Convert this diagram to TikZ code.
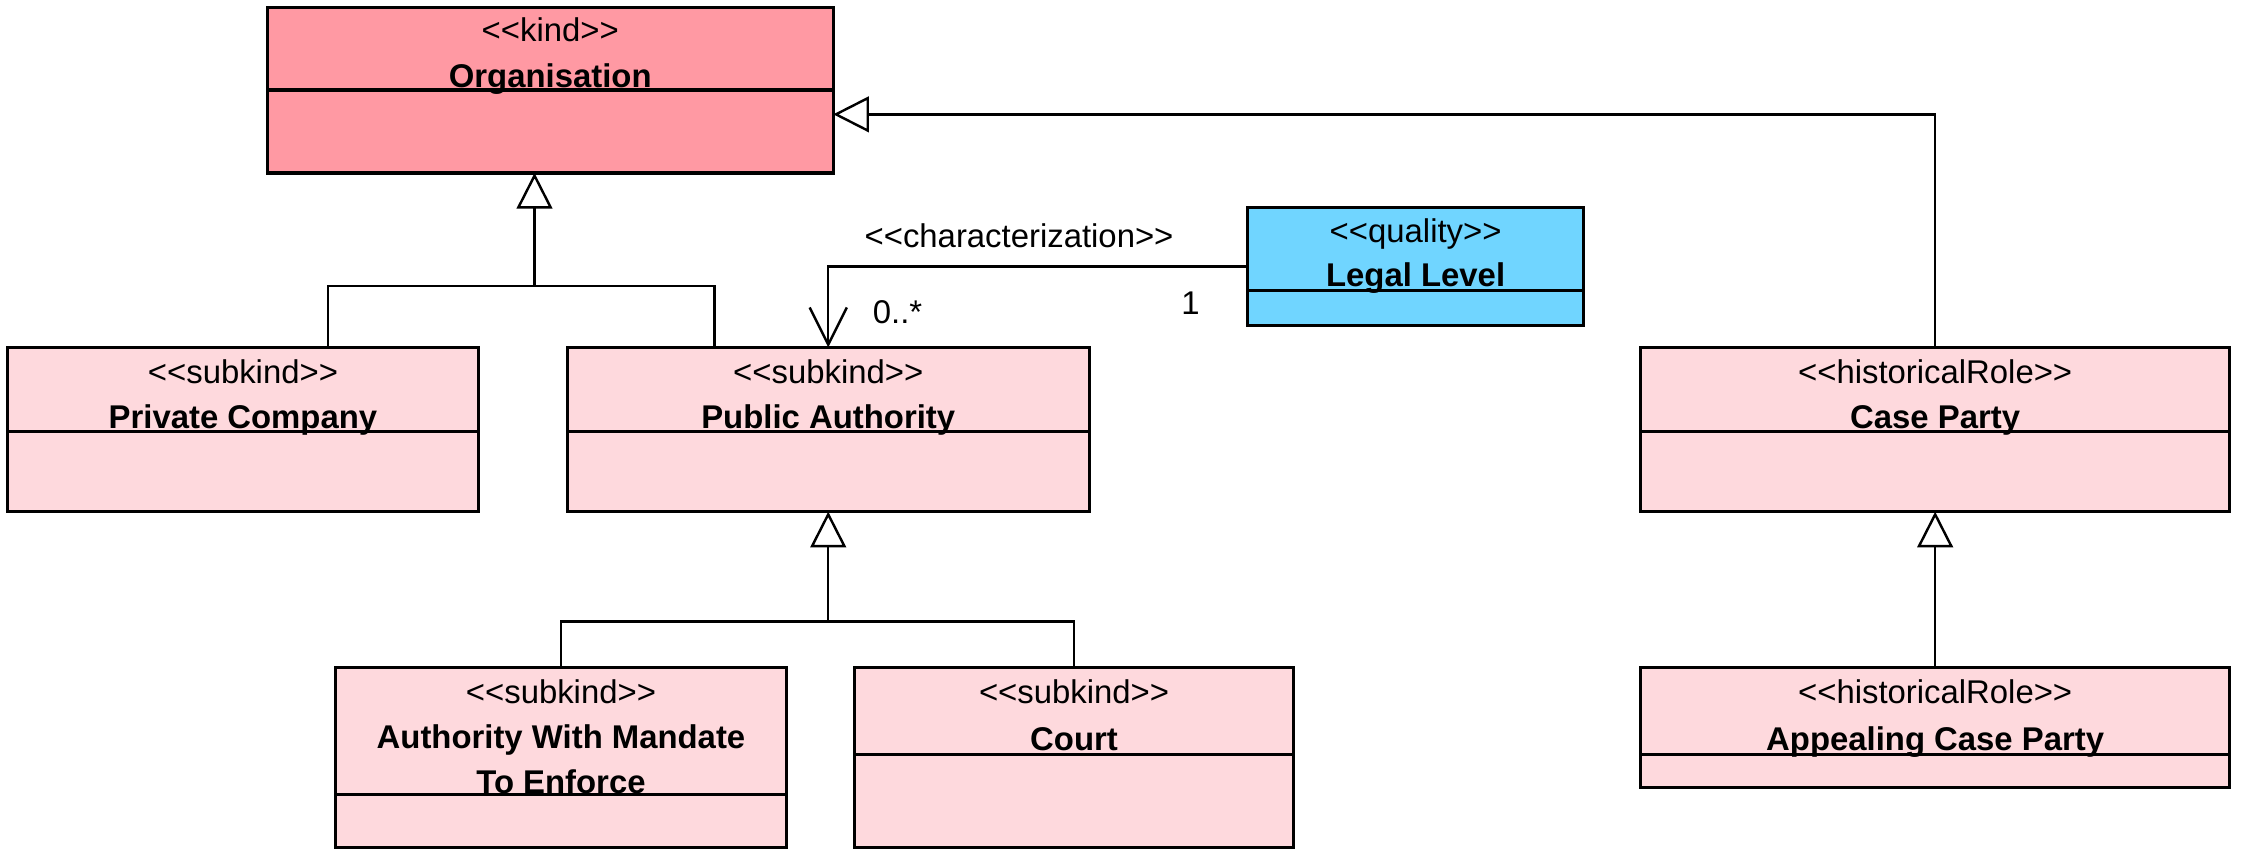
\documentclass[tikz,border=0pt]{standalone}
\usepackage{fontspec}
\setmainfont{Liberation Sans}
\usetikzlibrary{arrows.meta}
\definecolor{kindpink}{RGB}{255,153,163}
\definecolor{subpink}{RGB}{254,217,221}
\definecolor{qualblue}{RGB}{112,213,255}
\newcommand\umlst[1]{<{}<#1>{}>}
\begin{document}
\begin{tikzpicture}[x=1pt,y=-1pt,
  cls/.style={draw=black, line width=2.2pt, inner sep=0pt, outer sep=0pt, anchor=north west},
  div/.style={line width=2.2pt},
  st/.style={font=\fontsize{23}{28}\selectfont, anchor=base, inner sep=0pt},
  nm/.style={font=\fontsize{23}{28}\selectfont\bfseries, anchor=base, inner sep=0pt},
  conn/.style={line width=1.7pt},
  gen/.style={conn, -{Triangle[open,length=25pt,width=25pt]}},
  charc/.style={conn, -{Straight Barb[length=26pt,width=26pt]}}]
\useasboundingbox (0,0) rectangle (1568,602);
\fill[white] (0,0) rectangle (1568,602);

% Organisation
\node[cls, fill=kindpink, minimum width=396pt, minimum height=116pt] (org) at (187,5) {};
\node[st] (orgS) at (385,29) {\umlst{kind}};
\node[nm] (orgN) at (385,61) {Organisation};
\draw[div] (187,63) -- (583,63);

% Private Company
\node[cls, fill=subpink, minimum width=330pt, minimum height=115pt] (pc) at (5,243) {};
\node[st] (pcS) at (170,268) {\umlst{subkind}};
\node[nm] (pcN) at (170,299.5) {Private Company};
\draw[div] (5,302) -- (335,302);

% Public Authority
\node[cls, fill=subpink, minimum width=365pt, minimum height=115pt] (pa) at (397,243) {};
\node[st] (paS) at (579.5,268) {\umlst{subkind}};
\node[nm] (paN) at (579.5,299.5) {Public Authority};
\draw[div] (397,302) -- (762,302);

% Legal Level
\node[cls, fill=qualblue, minimum width=235pt, minimum height=83pt] (ll) at (873,145) {};
\node[st] (llS) at (990.5,170) {\umlst{quality}};
\node[nm] (llN) at (990.5,200.5) {Legal Level};
\draw[div] (873,203.5) -- (1108,203.5);

% Case Party
\node[cls, fill=subpink, minimum width=412pt, minimum height=115pt] (cp) at (1148,243) {};
\node[st] (cpS) at (1354,268) {\umlst{historicalRole}};
\node[nm] (cpN) at (1354,299.5) {Case Party};
\draw[div] (1148,302) -- (1560,302);

% Authority With Mandate To Enforce
\node[cls, fill=subpink, minimum width=315pt, minimum height=126pt] (auth) at (235,467) {};
\node[st] (authS) at (392.5,492) {\umlst{subkind}};
\node[nm] (authN1) at (392.5,524) {Authority With Mandate};
\node[nm] (authN2) at (392.5,555) {To Enforce};
\draw[div] (235,556) -- (550,556);

% Court
\node[cls, fill=subpink, minimum width=307pt, minimum height=126pt] (court) at (598,467) {};
\node[st] (courtS) at (751.5,492) {\umlst{subkind}};
\node[nm] (courtN) at (751.5,525) {Court};
\draw[div] (598,528) -- (905,528);

% Appealing Case Party
\node[cls, fill=subpink, minimum width=412pt, minimum height=84pt] (acp) at (1148,467) {};
\node[st] (acpS) at (1354,492) {\umlst{historicalRole}};
\node[nm] (acpN) at (1354,525) {Appealing Case Party};
\draw[div] (1148,528) -- (1560,528);

% Generalizations to Organisation
\coordinate (j1) at (374,200);
\draw[conn] ([xshift=224.5pt]pc.north west) |- (j1);
\draw[conn] ([xshift=103pt]pa.north west) |- (j1);
\draw[gen] (j1) -- (j1 |- org.south);
\draw[gen] (cp.north) |- ([yshift=-17pt]org.east);

% Generalizations to Public Authority
\coordinate (j2) at (579.5,435);
\draw[conn] (auth.north) |- (j2);
\draw[conn] (court.north) |- (j2);
\draw[gen] (j2) -- (pa.south);

% Generalization to Case Party
\draw[gen] (acp.north) -- (cp.south);

% Characterization
\draw[charc] (ll.west) -| (pa.north);
\node[st] (charL) at (713,173) {\umlst{characterization}};
\node[st] (mult1) at (628,226) {0..*};
\node[st] (mult2) at (833,220) {1};
\end{tikzpicture}
\end{document}
